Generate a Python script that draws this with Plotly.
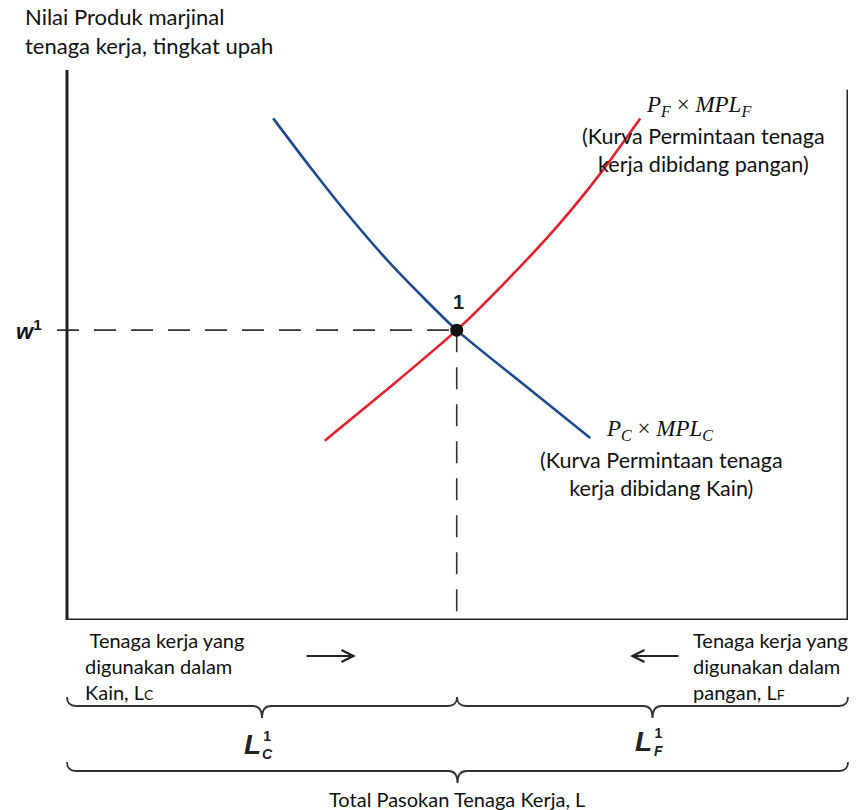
import plotly.graph_objects as go

# ---- data (labor units on x, wage / value on y) ----
blue_x = [26.4, 31.1, 35.8, 41.8, 49.9, 58.4, 67.0]
blue_y = [91.2, 82.4, 74.0, 64.2, 52.7, 42.9, 33.1]
red_x = [33.0, 41.4, 49.9, 57.6, 63.1, 68.3, 73.4]
red_y = [32.6, 42.4, 52.7, 63.6, 72.1, 81.2, 91.2]
eq_x = [49.9]
eq_y = [52.7]
w_line_x = [-1.28, 49.9]
w_line_y = [52.7, 52.7]
l_line_x = [49.9, 49.9]
l_line_y = [52.7, 0]
axis_top = 100
right_top = 96.4

# ---- pixel helpers for layout ----
ML, MT, PW, PH = 57, 70, 791, 550
def px(x):
    return (x - ML) / PW
def py(y):
    return (MT + PH - y) / PH

fig = go.Figure()
DASH = "22px,15px"
fig.add_trace(go.Scatter(x=w_line_x, y=w_line_y, mode="lines",
                         line=dict(color="#333333", width=1.6, dash=DASH), hoverinfo="skip"))
fig.add_trace(go.Scatter(x=l_line_x, y=l_line_y, mode="lines",
                         line=dict(color="#333333", width=1.6, dash=DASH), hoverinfo="skip"))
fig.add_trace(go.Scatter(x=blue_x, y=blue_y, mode="lines",
                         line=dict(color="#1d4a8e", width=2.6, shape="spline", smoothing=0.6),
                         hoverinfo="skip"))
fig.add_trace(go.Scatter(x=red_x, y=red_y, mode="lines",
                         line=dict(color="#e3202c", width=2.6, shape="spline", smoothing=0.6),
                         hoverinfo="skip"))
fig.add_trace(go.Scatter(x=eq_x, y=eq_y, mode="markers", marker=dict(color="#111111", size=13),
                         hoverinfo="skip"))

shapes = []
AX = dict(color="#222222", width=3)
shapes.append(dict(type="line", xref="x", yref="y", x0=0, x1=0, y0=0, y1=axis_top, line=AX))
shapes.append(dict(type="line", xref="x", yref="y", x0=0, x1=100, y0=0, y1=0, line=AX))
shapes.append(dict(type="line", xref="x", yref="y", x0=100, x1=100, y0=0, y1=right_top, line=AX))

def brace(x0, x1, y, d=12, r=9):
    xm = (x0 + x1) / 2
    pts = [
        ("M", [(x0, y - r)]),
        ("Q", [(x0, y), (x0 + r, y)]),
        ("L", [(xm - r, y)]),
        ("Q", [(xm, y), (xm, y + d)]),
        ("Q", [(xm, y), (xm + r, y)]),
        ("L", [(x1 - r, y)]),
        ("Q", [(x1, y), (x1, y - r)]),
    ]
    s = ""
    for cmd, ps in pts:
        s += cmd + " " + " ".join(f"{px(a):.5f},{py(b):.5f}" for a, b in ps) + " "
    return s.strip()

BR = dict(color="#333333", width=1.8)
shapes.append(dict(type="path", xref="paper", yref="paper", path=brace(67, 457, 706), line=BR))
shapes.append(dict(type="path", xref="paper", yref="paper", path=brace(457, 848, 706), line=BR))
shapes.append(dict(type="path", xref="paper", yref="paper", path=brace(67, 848, 771), line=BR))

SANS = "Lato"
ann = []
def A(text, x, y, xa="center", ya="middle", size=16, family=SANS, color="#111111", align="center"):
    ann.append(dict(text=text, x=px(x), y=py(y), xref="paper", yref="paper", xanchor=xa, yanchor=ya,
                    showarrow=False, font=dict(size=size, family=family, color=color), align=align))

def ARROW(x_head, x_tail, y):
    ann.append(dict(text="", x=px(x_head), y=py(y), xref="paper", yref="paper",
                    ax=x_tail - x_head, ay=0, showarrow=True, arrowhead=5, arrowsize=1.3,
                    arrowwidth=1.8, arrowcolor="#222222", standoff=0, startstandoff=0))

A("Nilai Produk marjinal<br>tenaga kerja, tingkat upah", 23, 31, xa="left", size=22, align="left")
A("<b><i>w</i></b><sup><b>1</b></sup>", 44, 330, xa="right", size=22, family="Liberation Sans")
A("<b>1</b>", 458, 302, size=20, family="Liberation Sans", color="#222222")
A("<i>P<sub>F</sub></i> × <i>MPL<sub>F</sub></i>", 644, 106, xa="left", size=23, family="Liberation Serif")
A("(Kurva Permintaan tenaga<br>kerja dibidang pangan)", 703, 150, size=21.5)
A("<i>P<sub>C</sub></i> × <i>MPL<sub>C</sub></i>", 604, 430, xa="left", size=23, family="Liberation Serif")
A("(Kurva Permintaan tenaga<br>kerja dibidang Kain)", 661, 474, size=21.5)
A(" Tenaga kerja yang<br>digunakan dalam<br>Kain, L<span style='font-size:14px'>C</span>", 83, 666, xa="left",
  size=20, align="left")
A("Tenaga kerja yang<br>digunakan dalam<br>pangan, L<span style='font-size:14px'>F</span>", 691, 666, xa="left",
  size=20, align="left")
ARROW(356, 305, 656)
ARROW(630, 680, 656)
A("<b><i>L</i></b>", 252, 744, xa="center", size=28, family="Liberation Sans", color="#222222")
A("<b>1<br><i>C</i></b>", 267, 745, xa="center", size=14, family="Liberation Sans", color="#222222")
A("<b><i>L</i></b>", 643, 741, xa="center", size=28, family="Liberation Sans", color="#222222")
A("<b>1<br><i>F</i></b>", 658, 742, xa="center", size=14, family="Liberation Sans", color="#222222")
A("Total Pasokan Tenaga Kerja, L", 457, 799, size=20)

fig.update_layout(
    width=856, height=810,
    margin=dict(l=ML, r=856 - ML - PW, t=MT, b=810 - MT - PH),
    paper_bgcolor="white", plot_bgcolor="white",
    showlegend=False,
    xaxis=dict(range=[-1.28, 100], visible=False, fixedrange=True),
    yaxis=dict(range=[0, 100], visible=False, fixedrange=True),
    shapes=shapes, annotations=ann,
)
fig.write_html("out.html", config={"displayModeBar": False},
               post_script="document.body.style.margin='0px';document.body.style.overflow='hidden';")
